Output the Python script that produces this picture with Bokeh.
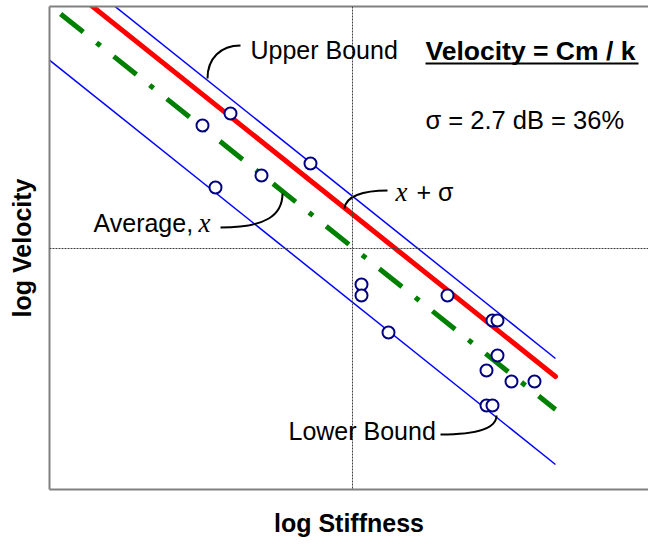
import math
from bokeh.plotting import figure
from bokeh.models import Range1d, Span, Label, FixedTicker, LinearAxis
from bokeh.embed import file_html
from bokeh.resources import INLINE

# measured data (log units)
stiffness = [-1.22, -1.50, -0.42, -0.91, -1.37, 0.09, 0.09, 0.95, 1.40, 1.45,
             0.36, 1.45, 1.34, 1.59, 1.82, 1.34, 1.40]
velocity = [1.35, 1.23, 0.85, 0.73, 0.61, -0.36, -0.47, -0.47, -0.72, -0.72,
            -0.84, -1.07, -1.22, -1.33, -1.33, -1.57, -1.57]

line_x = [-3.45, 2.03]
upper_y = [3.28, -1.10]
plus_sigma_y = [3.10, -1.28]
average_y = [2.77, -1.61]
lower_y = [2.22, -2.16]

# leader curves: upper, average, x+sigma, lower
lead_x0 = [-1.12, -1.32, 0.35, 0.88]
lead_y0 = [2.03, 0.21, 0.58, -1.86]
lead_cx0 = [-1.32, -0.87, 0.10, 1.26]
lead_cy0 = [2.03, 0.21, 0.58, -1.86]
lead_cx1 = [-1.45, -0.70, -0.07, 1.44]
lead_cy1 = [1.90, 0.33, 0.52, -1.80]
lead_x1 = [-1.45, -0.70, -0.08, 1.44]
lead_y1 = [1.70, 0.55, 0.40, -1.67]

SANS = "Liberation Sans"
SERIF = "Liberation Serif"
BASE_SHIFT = 0.08  # label anchor correction
BORDER = "#808080"

p = figure(width=648, height=544,
           x_range=Range1d(-3.03, 2.96), y_range=Range1d(-2.41, 2.42),
           output_backend="svg", toolbar_location=None,
           min_border_left=49, min_border_right=0,
           min_border_top=6, min_border_bottom=55)
p.grid.visible = False
p.outline_line_color = None
p.background_fill_color = "white"
p.border_fill_color = "white"

top_axis = LinearAxis()
p.add_layout(top_axis, "above")
bottom_axis = p.below[0]
left_axis = p.left[0]

for ax in (bottom_axis, left_axis, top_axis):
    ax.ticker = FixedTicker(ticks=[])
    ax.major_label_text_font_size = "0px"
    ax.major_label_standoff = 0
    ax.major_tick_line_color = None
    ax.minor_tick_line_color = None
    ax.major_tick_out = 0
    ax.major_tick_in = 0
    ax.axis_line_color = BORDER
    ax.axis_line_width = 2
    ax.axis_label_text_font = SANS
    ax.axis_label_text_font_size = "25px"
    ax.axis_label_text_font_style = "bold"
    ax.axis_label_text_color = "black"
bottom_axis.axis_label = "log Stiffness"
left_axis.axis_label = "log Velocity"
bottom_axis.axis_label_standoff = 19
left_axis.axis_label_standoff = 14

p.add_layout(Span(location=0, dimension="height", line_color="#404040",
                  line_width=1, line_dash="2 1"))
p.add_layout(Span(location=0, dimension="width", line_color="#404040",
                  line_width=1, line_dash="2 1"))

p.line(line_x, upper_y, line_color="#0000FF", line_width=1.5)
p.line(line_x, lower_y, line_color="#0000FF", line_width=1.5)
p.line(line_x, plus_sigma_y, line_color="#FF0000", line_width=5, line_cap="round")
p.line(line_x, average_y, line_color="#008000", line_width=5, line_dash="29 17 5 17")

p.bezier(x0=lead_x0, y0=lead_y0, x1=lead_x1, y1=lead_y1,
         cx0=lead_cx0, cy0=lead_cy0, cx1=lead_cx1, cy1=lead_cy1,
         line_color="black", line_width=2)

p.scatter(stiffness, velocity, size=12, fill_color="white",
          line_color="#000080", line_width=2)

def lab(x, y, text, font=SANS, size="25px", style="normal", align="left"):
    p.add_layout(Label(x=x, y=y + BASE_SHIFT, text=text, text_font=font,
                       text_font_size=size, text_font_style=style,
                       text_align=align, text_baseline="alphabetic",
                       text_color="black"))

lab(-1.02, 1.91, "Upper Bound")
lab(0.73, 1.90, "Velocity = Cm / k", size="26.5px", style="bold")
p.segment(x0=[0.73], y0=[1.85], x1=[2.86], y1=[1.85], line_color="black", line_width=2)
lab(0.73, 1.21, "σ = 2.7 dB = 36%", size="25.5px")
lab(-2.59, 0.18, "Average,")
lab(-1.54, 0.18, "x", font=SERIF, size="27px", style="italic")
lab(0.43, 0.49, "x", font=SERIF, size="27px", style="italic")
lab(0.64, 0.49, "+ σ")
lab(-0.64, -1.90, "Lower Bound")

open("out.html", "w").write(file_html(p, INLINE))
